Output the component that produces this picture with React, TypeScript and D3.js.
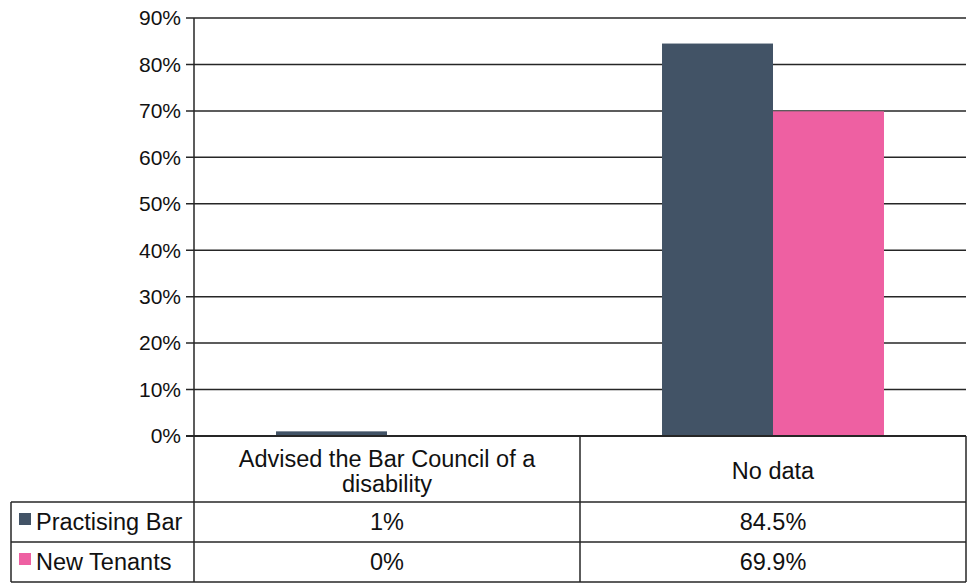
import React from "react";
import * as d3 from "d3";

const categories = ["Advised the Bar Council of a disability", "No data"];
const categoryLines = [["Advised the Bar Council of a", "disability"], ["No data"]];
const seriesNames = ["Practising Bar", "New Tenants"];
const practisingBar = [0.01, 0.845];
const newTenants = [0.0, 0.699];
const practisingLabels = ["1%", "84.5%"];
const newTenantsLabels = ["0%", "69.9%"];
const yTicks = [0, 0.1, 0.2, 0.3, 0.4, 0.5, 0.6, 0.7, 0.8, 0.9];
const colors = ["#425366", "#EE60A2"];

const W = 973;
const H = 583;
const FONT = "'Liberation Sans', Arial, sans-serif";
const FS_AXIS = 21;
const FS_TABLE = 23.5;
const LINE = "#262626";

export default function App() {
  const left = 194;
  const right = 966;
  const top = 18;
  const bottom = 436;
  const tableLeft = 11;
  const catRowBottom = 502;
  const rowH = 40;

  const y = d3.scaleLinear().domain([0, 0.9]).range([bottom, top]);
  const x0 = d3.scaleBand<string>().domain(categories).range([left, right]).paddingInner(0).paddingOuter(0);
  const x1 = d3.scaleBand<string>().domain(seriesNames).range([0, x0.bandwidth()]).paddingInner(0).paddingOuter(0.739);
  const seriesValues = [practisingBar, newTenants];
  const seriesLabels = [practisingLabels, newTenantsLabels];
  const fmt = d3.format(".0%");

  return (
    <svg width={W} height={H} style={{ position: "absolute", left: 0, top: 0 }} fontFamily={FONT}>
      <rect width={W} height={H} fill="#fff" />
      {yTicks.map((t) => (
        <g key={t}>
          <line x1={left - 8} x2={right} y1={y(t)} y2={y(t)} stroke={LINE} strokeWidth={1.5} />
          <text x={181} y={y(t)} dy="0.35em" textAnchor="end" fontSize={FS_AXIS} fill="#111">
            {fmt(t)}
          </text>
        </g>
      ))}
      {seriesNames.map((s, si) =>
        categories.map((c, ci) => {
          const v = seriesValues[si][ci];
          const yy = y(v);
          return (
            <rect
              key={s + c}
              x={(x0(c) ?? 0) + (x1(s) ?? 0)}
              y={yy}
              width={x1.bandwidth()}
              height={Math.max(0, bottom - yy)}
              fill={colors[si]}
            />
          );
        })
      )}
      <line x1={left} x2={left} y1={top} y2={catRowBottom + rowH * 2} stroke={LINE} strokeWidth={1.5} />
      <line x1={left - 8} x2={right} y1={bottom} y2={bottom} stroke={LINE} strokeWidth={2} />
      {categories.map((c) => (
        <line
          key={"v" + c}
          x1={(x0(c) ?? 0) + x0.bandwidth()}
          x2={(x0(c) ?? 0) + x0.bandwidth()}
          y1={bottom}
          y2={catRowBottom + rowH * 2}
          stroke={LINE}
          strokeWidth={1.5}
        />
      ))}
      <line x1={tableLeft} x2={tableLeft} y1={catRowBottom} y2={catRowBottom + rowH * 2} stroke={LINE} strokeWidth={1.5} />
      {[0, 1, 2].map((r) => (
        <line
          key={"h" + r}
          x1={tableLeft}
          x2={right}
          y1={catRowBottom + r * rowH}
          y2={catRowBottom + r * rowH}
          stroke={LINE}
          strokeWidth={1.5}
        />
      ))}
      {categories.map((c, ci) => {
        const lines = categoryLines[ci];
        const cx = (x0(c) ?? 0) + x0.bandwidth() / 2;
        const cy = (bottom + catRowBottom) / 2 + 2;
        const lh = 25;
        return (
          <text key={"cl" + c} x={cx} textAnchor="middle" fontSize={FS_TABLE} fill="#111">
            {lines.map((l, li) => (
              <tspan key={li} x={cx} y={cy + (li - (lines.length - 1) / 2) * lh} dy="0.35em">
                {l}
              </tspan>
            ))}
          </text>
        );
      })}
      {seriesNames.map((s, si) => {
        const cy = catRowBottom + si * rowH + rowH / 2;
        return (
          <g key={"row" + s}>
            <rect x={19} y={cy - 9} width={12} height={12} fill={colors[si]} />
            <text x={36} y={cy} dy="0.35em" fontSize={FS_TABLE} fill="#111">
              {s}
            </text>
            {categories.map((c, ci) => (
              <text
                key={c}
                x={(x0(c) ?? 0) + x0.bandwidth() / 2}
                y={cy}
                dy="0.35em"
                textAnchor="middle"
                fontSize={FS_TABLE}
                fill="#111"
              >
                {seriesLabels[si][ci]}
              </text>
            ))}
          </g>
        );
      })}
    </svg>
  );
}
